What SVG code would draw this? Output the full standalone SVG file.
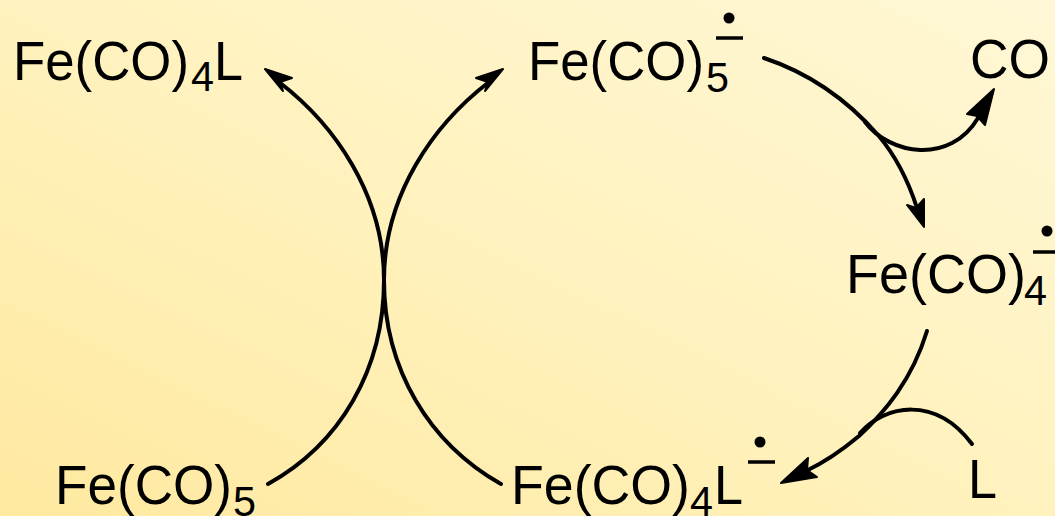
<svg xmlns="http://www.w3.org/2000/svg" width="1055" height="516" viewBox="0 0 1055 516">
<style>
text{font-family:"Liberation Sans",Arial,sans-serif;fill:#000}
.m{font-size:55px}
.s{font-size:42px}
.c{fill:none;stroke:#000;stroke-width:4;stroke-linecap:round}
.h{fill:#000;stroke:#000;stroke-width:2;stroke-linejoin:round}
.b{stroke:#000;stroke-width:3.5}
</style>
<defs>
<linearGradient id="bg" x1="0" y1="1" x2="1" y2="0"><stop offset="0" stop-color="#FFE9A0"/><stop offset="0.5" stop-color="#FFF2BE"/><stop offset="1" stop-color="#FFF7D6"/></linearGradient>
</defs>
<rect width="1055" height="516" fill="url(#bg)"/>
<g id="connectors">
<path class="c" d="M268 484C340 444 384 370 384 280C384 195 335 125 279 82"/>
<path class="h" d="M265 69L292 78L280 82L283 91Z"/>
<path class="c" d="M501 484C430 444 384 370 384 280C384 195 433 125 489 82"/>
<path class="h" d="M503 69L476 78L488 82L485 91Z"/>
<path class="c" d="M764 58C815 75 850 103 878 135C895 155 908 180 917 208"/>
<path class="h" d="M924 227L907 205L916 208L924 199Z"/>
<path class="c" d="M865 122C890 155 950 165 978 118"/>
<path class="h" d="M994 89L967 114L977 116L985 125Z"/>
<path class="c" d="M927 331C912 380 885 412 859 436C840 452 825 462 806 471"/>
<path class="c" d="M860 433C885 405 935 395 972 444"/>
<path class="h" d="M781 483L808 458L807 470L817 477Z"/>
</g>
<g id="fe-co-4-l"><text class="m" x="13" y="80" textLength="176" lengthAdjust="spacingAndGlyphs">Fe(CO)</text><text class="s" x="191" y="91" textLength="23" lengthAdjust="spacingAndGlyphs">4</text><text class="m" x="214" y="80" textLength="29" lengthAdjust="spacingAndGlyphs">L</text></g>
<g id="fe-co-5-radical"><text class="m" x="528" y="80" textLength="176" lengthAdjust="spacingAndGlyphs">Fe(CO)</text><text class="s" x="706" y="92" textLength="23" lengthAdjust="spacingAndGlyphs">5</text><circle cx="729" cy="18" r="5.5"/><path class="b" d="M716 38H743"/></g>
<g id="co"><text class="m" x="970" y="78" textLength="80" lengthAdjust="spacingAndGlyphs">CO</text></g>
<g id="fe-co-4-radical"><text class="m" x="846" y="293" textLength="180" lengthAdjust="spacingAndGlyphs">Fe(CO)</text><text class="s" x="1024" y="305" textLength="23" lengthAdjust="spacingAndGlyphs">4</text><circle cx="1047" cy="231" r="5.5"/><path class="b" d="M1033 252H1055"/></g>
<g id="fe-co-4-l-radical"><text class="m" x="511" y="504" textLength="179" lengthAdjust="spacingAndGlyphs">Fe(CO)</text><text class="s" x="690" y="516" textLength="23" lengthAdjust="spacingAndGlyphs">4</text><text class="m" x="714" y="504" textLength="29" lengthAdjust="spacingAndGlyphs">L</text><circle cx="760" cy="442" r="5.5"/><path class="b" d="M748 462H775"/></g>
<g id="l"><text class="m" x="968" y="498" textLength="29" lengthAdjust="spacingAndGlyphs">L</text></g>
<g id="fe-co-5"><text class="m" x="55" y="504" textLength="177" lengthAdjust="spacingAndGlyphs">Fe(CO)</text><text class="s" x="233" y="516" textLength="23" lengthAdjust="spacingAndGlyphs">5</text></g>
</svg>
